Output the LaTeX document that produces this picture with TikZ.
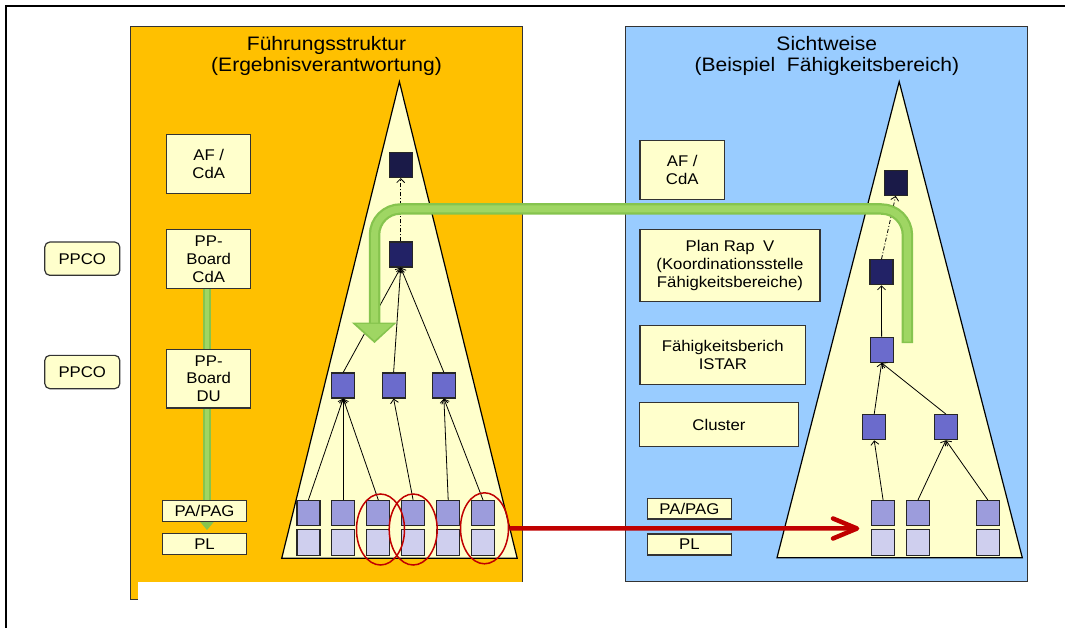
\documentclass[tikz,border=0pt]{standalone}
\usepackage{fontspec}
\setmainfont{Liberation Sans}[FakeStretch=1.08]
\usetikzlibrary{arrows.meta,shapes.geometric}
\definecolor{orng}{HTML}{FFC000}
\definecolor{skyb}{HTML}{99CCFF}
\definecolor{paleY}{HTML}{FFFFCC}
\definecolor{navyA}{HTML}{1A1A48}
\definecolor{navyB}{HTML}{222266}
\definecolor{midP}{HTML}{6B6BCC}
\definecolor{upP}{HTML}{9C9CDC}
\definecolor{lowP}{HTML}{CFCFEE}
\definecolor{redA}{HTML}{C00000}
\definecolor{grnO}{HTML}{86C44E}
\definecolor{grnI}{HTML}{9FD663}
\tikzset{
  lbl/.style={draw=black!80, fill=paleY, line width=1.2pt, inner sep=0pt, align=center,
    font=\fontsize{15.5}{17.8}\selectfont},
  ppco/.style={lbl, rounded corners=5pt, minimum width=75pt, minimum height=33.3pt},
  sq/.style={draw=black!85, line width=1.2pt, minimum width=23pt, minimum height=25pt, inner sep=0pt},
  link/.style={line width=0.8pt, -{Straight Barb[length=4pt,width=8pt]}},
  dlink/.style={link, dash pattern=on 4pt off 2pt on 1pt off 2pt},
  ring/.style={ellipse, draw=redA, line width=1.5pt, minimum width=48pt, minimum height=71pt, inner sep=0pt},
  ttl/.style={align=center, inner sep=0pt, anchor=north, font=\fontsize{19.5}{21.5}\selectfont},
  panel/.style={draw=black!80, line width=1pt},
  tri/.style={fill=paleY, draw=black, line width=1.2pt, line join=miter}
}
\begin{document}
\begin{tikzpicture}[x=1pt,y=-1pt]
\useasboundingbox (0,0) rectangle (1065,628);
% outer frame
\draw[line width=2.4pt] (1065,6) -- (6,6) -- (6,628);
% panels
\draw[panel, fill=orng] (130.5,26.7) rectangle (522.4,599);
\fill[white] (137.7,581.7) rectangle (530,606);
\draw[panel, fill=skyb] (625.9,26.7) rectangle (1027.4,581);
% titles
\node[ttl] (tL) at (326.5,35.8) {Führungsstruktur\\(Ergebnisverantwortung)};
\node[ttl] (tR) at (826.8,35.8) {Sichtweise\\(Beispiel\hspace{0.6em}Fähigkeitsbereich)};
% triangles
\draw[tri] (399.4,81.7) -- (517.2,558.3) -- (281.7,558.3) -- cycle;
\draw[tri] (899.2,81.7) -- (1022.3,557.7) -- (777,557.7) -- cycle;
% small green arrow (behind boxes)
\coordinate (sgS) at (207,289);
\coordinate (sgT) at (207,521);
\draw[grnO, line width=8.5pt] (sgS) -- (sgT);
\draw[grnI, line width=4pt] (sgS) -- (sgT);
\fill[grnO] (199,520.5) -- (215,520.5) -- (207,530) -- cycle;
% left labels
\node[ppco] (ppco1) at (82.3,258.7) {PPCO};
\node[ppco] (ppco2) at (82.3,372) {PPCO};
\node[lbl, minimum width=84pt, minimum height=58.6pt] (afL) at (208.7,164) {AF /\\CdA};
\node[lbl, minimum width=84pt, minimum height=59pt] (ppcdaL) at (208.7,259.2) {PP-\\Board\\CdA};
\node[lbl, minimum width=84pt, minimum height=58.7pt] (ppduL) at (208.7,378.7) {PP-\\Board\\DU};
\node[lbl, minimum width=84pt, minimum height=20.6pt] (papagL) at (204.5,511) {PA/PAG};
\node[lbl, minimum width=84pt, minimum height=21pt] (plL) at (204.5,543.8) {PL};
% right labels
\node[lbl, minimum width=84.6pt, minimum height=59pt] (afR) at (682.2,169.8) {AF /\\CdA};
\node[lbl, minimum width=180pt, minimum height=72pt] (planR) at (730,265.7) {Plan Rap\hspace{0.55em}V\\(Koordinationsstelle\\Fähigkeitsbereiche)};
\node[lbl, minimum width=165.8pt, minimum height=59.4pt] (istarR) at (722.8,355) {Fähigkeitsberich\\ISTAR};
\node[lbl, minimum width=158.3pt, minimum height=44pt] (clusR) at (719,424.7) {Cluster};
\node[lbl, minimum width=84pt, minimum height=20.7pt] (papagR) at (689.4,508.7) {PA/PAG};
\node[lbl, minimum width=84pt, minimum height=21pt] (plR) at (689.4,544.5) {PL};
% left tree squares
\node[sq, fill=navyA] (n1) at (400.7,165) {};
\node[sq, fill=navyB] (n2) at (400.7,254.5) {};
\node[sq, fill=midP] (m1) at (343.2,385.5) {};
\node[sq, fill=midP] (m2) at (393.6,385.5) {};
\node[sq, fill=midP] (m3) at (443.9,385.5) {};
\foreach \i/\x in {1/308.4,2/343.2,3/378.3,4/413.1,5/448.2,6/483.0}{
  \node[sq, fill=upP] (b\i) at (\x,513) {};
  \node[sq, fill=lowP, minimum height=25.6pt] (c\i) at (\x,542.5) {};
}
% left tree links
\draw[dlink] (n2.north) -- (n1.south);
\draw[link] (m1.north) -- (n2.south);
\draw[link] (m2.north) -- (n2.south);
\draw[link] (m3.north) -- (n2.south);
\draw[link] (b1.north) -- (m1.south);
\draw[link] (b2.north) -- (m1.south);
\draw[link] (b3.north) -- (m1.south);
\draw[link] (b4.north) -- (m2.south);
\draw[link] (b5.north) -- (m3.south);
\draw[link] (b6.north) -- (m3.south);
% right tree squares
\node[sq, fill=navyA] (r1) at (895.7,182.8) {};
\node[sq, fill=navyB] (r2) at (881.5,272.2) {};
\node[sq, fill=midP] (r3) at (881.6,349.8) {};
\node[sq, fill=midP] (r4a) at (874.2,427.2) {};
\node[sq, fill=midP] (r4b) at (945.9,427.2) {};
\foreach \i/\x in {1/883.1,2/917.9,3/987.9}{
  \node[sq, fill=upP] (rb\i) at (\x,513.2) {};
  \node[sq, fill=lowP, minimum height=25.6pt] (rc\i) at (\x,542.5) {};
}
\draw[dlink] (r2.north) -- (r1.south);
\draw[link] (r3.north) -- (r2.south);
\draw[link] (r4a.north) -- (r3.south);
\draw[link] (r4b.north) -- (r3.south);
\draw[link] (rb1.north) -- (r4a.south);
\draw[link] (rb2.north) -- (r4b.south);
\draw[link] (rb3.north) -- (r4b.south);
% big green arrow
\coordinate (gA) at (907.4,343);
\coordinate (gB) at (374.5,323.5);
\draw[grnO, line width=11.5pt, rounded corners=26pt] (gA) -- (907.4,209) -- (374.5,209) -- (gB);
\draw[grnI, line width=7pt, rounded corners=26pt] (907.4,341.5) -- (907.4,209) -- (374.5,209) -- (gB);
\fill[grnO] (351.7,322.5) -- (396.7,322.5) -- (374.5,343) -- cycle;
\fill[grnI] (356,323.8) -- (393,323.8) -- (374.5,340.5) -- cycle;
% red rings
\node[ring] (e1) at (380.5,529.5) {};
\node[ring] (e2) at (413.2,529.5) {};
\node[ring] (e3) at (484.5,528.3) {};
% red arrow
\coordinate (rtip) at (857,528.5);
\draw[redA, line width=4.5pt] (e3.east) -- (rtip);
\draw[redA, line width=4.5pt, line cap=round, line join=round] (rtip) ++(-24,-10) -- (rtip) -- ++(-24,10);
\end{tikzpicture}
\end{document}
